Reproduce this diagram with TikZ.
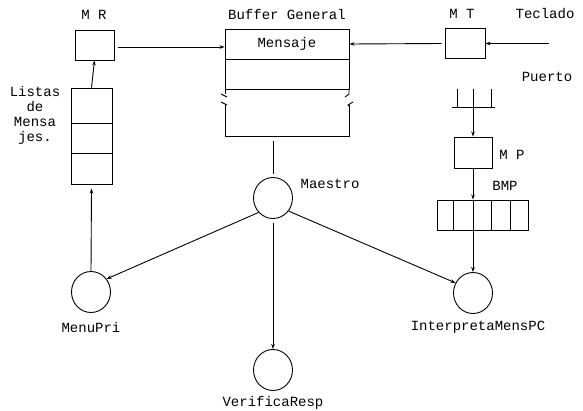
\documentclass[tikz,border=0pt]{standalone}
\usepackage{fontspec}
\setmainfont{Liberation Mono}
\usetikzlibrary{arrows.meta,shapes.geometric}
\begin{document}
\begin{tikzpicture}[x=1pt,y=-1pt,
  line width=0.9pt,
  lbl/.style={font=\fontsize{14}{15}\selectfont, inner sep=0pt},
  boxnode/.style={draw, minimum width=#1, minimum height=30pt, inner sep=0pt},
  proc/.style={draw, ellipse, minimum width=39pt, minimum height=41pt, inner sep=0pt},
  arr/.style={-{Stealth[length=5pt,width=3.5pt]}},
]
\useasboundingbox (0,0) rectangle (583,410);

% message handlers
\node[boxnode=39pt] (mr) at (94.5,45) {};
\node[lbl] at (94,15) {M~R};
\node[boxnode=40pt] (mt) at (465,43.5) {};
\node[lbl] at (462,14) {M~T};
\node[lbl] at (545,14) {Teclado};
\coordinate (kbd) at (549,43.5);

% general buffer
\node[lbl] at (287,14) {Buffer General};
\node[draw, minimum width=124pt, minimum height=30pt, inner sep=0pt] (msg) at (287,44) {};
\node[lbl] at (287,44) {Mensaje};
\draw (225,59) -- (225,89) -- (349,89) -- (349,59);
\draw (225,89) -- (225,94);
\draw (221,94) -- (227,97);
\draw (221,102) -- (227,105);
\draw (225,104) -- (225,136) -- (349,136) -- (349,105);
\draw (349,89) -- (349,94) -- (345,97);
\draw (353,102) -- (348,105) -- (349,106);
\coordinate (bufbot) at (273,141);

% message list
\node[draw, minimum width=41pt, minimum height=96pt, inner sep=0pt] (list) at (91.5,136) {};
\draw (list.west |- 0,123) -- (list.east |- 0,123);
\draw (list.west |- 0,153) -- (list.east |- 0,153);
\node[lbl, align=center] at (35,115) {Listas\\de\\Mensa\\jes.};

% port
\node[lbl] at (547,77) {Puerto};
\draw (452,107) -- (495,107);
\draw (457,89) -- (457,107);
\draw (473,89) -- (473,107);
\draw (491,89) -- (491,107);
\coordinate (port) at (473,107);
\node[boxnode=38pt, minimum height=31pt] (mp) at (473,152.5) {};
\node[lbl] at (512,155) {M~P};
\node[lbl] at (505,186) {BMP};

% BMP queue
\node[draw, minimum width=91pt, minimum height=30pt, inner sep=0pt] (bmp) at (482.5,215) {};
\foreach \xx in {453,473,491,510} \draw (\xx,200) -- (\xx,230);

% processes
\node[proc] (maestro) at (273,198) {};
\node[lbl] at (330,184) {Maestro};
\node[proc] (menu) at (91,292) {};
\node[lbl] at (91,327) {MenuPri};
\node[proc] (verif) at (273,370) {};
\node[lbl] at (273,403) {VerificaResp};
\node[proc] (interp) at (473,293) {};
\node[lbl] at (478,327) {InterpretaMensPC};

% connectors
\draw[arr] (mr.east) ++(4,2) -- (msg.west |- 0,47);
\draw[arr] (mt.west) ++(-3,0) -- (msg.east |- 0,44);
\draw[arr] (kbd) -- (mt.east);
\draw[arr] (list.north) -- (mr.south);
\draw[arr] (menu.north) -- ([yshift=-4pt]list.south);
\draw (bufbot) -- ([yshift=3pt]maestro.north);
\draw[arr] (port) -- (mp.north);
\draw[arr] (mp.south) -- (bmp.north -| mp.south);
\draw[arr] (bmp.south -| mp.south) -- (interp.north);
\draw[arr] (maestro.225) -- (menu.40);
\draw[arr] ([yshift=-4pt]maestro.south) -- (verif.north);
\draw[arr] (maestro.-40) -- (interp.150);
\end{tikzpicture}
\end{document}
